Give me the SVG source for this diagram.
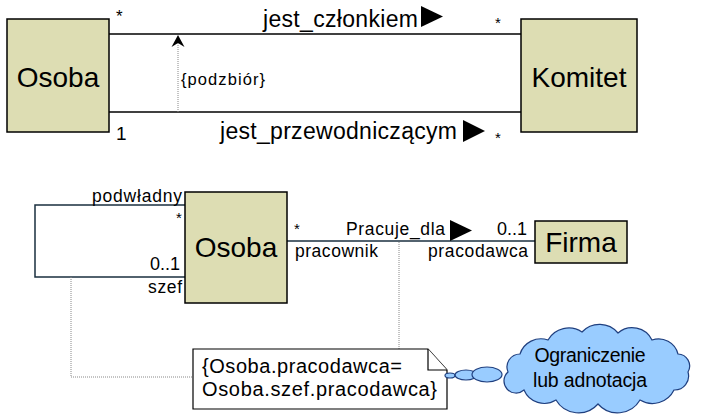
<svg xmlns="http://www.w3.org/2000/svg" width="702" height="416" viewBox="0 0 702 416">
<style>
text{font-family:"Liberation Sans",Arial,sans-serif;fill:#000}
.cls{fill:#DDDDB3;stroke:#000;stroke-width:1.5}
.big{font-size:28px;text-anchor:middle}
.lbl{font-size:23px}
.sm{font-size:17.5px}
.mult{font-size:18px}
.star{font-size:15px}
.assoc{fill:none;stroke:#000;stroke-width:1.5}
.assoc2{fill:none;stroke:#1a2f3f;stroke-width:1.5}
.dot{fill:none;stroke:#888;stroke-width:1;stroke-dasharray:1 1}
.tri{fill:#000}
.note{fill:#fff;stroke:#000;stroke-width:1.2}
.cloud{fill:#99CCFF;stroke:#1F3F7F;stroke-width:1.2}
</style>
<rect width="702" height="416" fill="#fff"/>
<g id="connectors">
  <line class="assoc" x1="107" y1="34" x2="521" y2="34"/>
  <line class="assoc" x1="107" y1="112" x2="521" y2="112"/>
  <line class="dot" x1="178" y1="112" x2="178" y2="42"/>
  <path d="M178,35 L184.5,47 L178,43 L171.5,47 Z" fill="#000"/>
  <path class="assoc2" d="M185,205 L35,205 L35,277 L185,277"/>
  <line class="assoc2" x1="287" y1="241" x2="535" y2="241"/>
  <path class="dot" d="M71,277 L71,377 L193,377"/>
  <line class="dot" x1="399" y1="242" x2="399" y2="349"/>
  <!-- top labels -->
  <text class="star" style="font-size:17px" x="116" y="22">*</text>
  <text class="lbl" x="263" y="27" textLength="155">jest_członkiem</text>
  <polygon class="tri" points="421,6 443,16.5 421,27"/>
  <text class="star" x="495" y="28">*</text>
  <text style="font-size:16.5px" x="181" y="85" textLength="84">{podzbiór}</text>
  <text style="font-size:19px" x="116" y="140">1</text>
  <text class="lbl" x="220" y="139" textLength="237">jest_przewodniczącym</text>
  <polygon class="tri" points="463,120 485,131 463,142"/>
  <text class="star" x="495" y="143">*</text>
  <!-- bottom labels -->
  <text class="sm" x="92" y="202" textLength="90">podwładny</text>
  <text class="star" x="176" y="223">*</text>
  <text class="mult" x="150" y="270" textLength="30">0..1</text>
  <text class="sm" x="148" y="293" textLength="34">szef</text>
  <text class="star" x="294" y="234">*</text>
  <text class="sm" x="295" y="257" textLength="83">pracownik</text>
  <text class="sm" x="346" y="235" textLength="99">Pracuje_dla</text>
  <polygon class="tri" points="450,220 472,230.5 450,241"/>
  <text class="mult" x="497" y="235" textLength="30">0..1</text>
  <text class="sm" x="428" y="257" textLength="100">pracodawca</text>
</g>
<g id="osoba-top">
  <rect class="cls" x="7" y="19" width="102" height="113"/>
  <text class="big" x="58" y="87">Osoba</text>
</g>
<g id="komitet">
  <rect class="cls" x="521" y="19" width="116" height="113"/>
  <text class="big" x="579" y="87">Komitet</text>
</g>
<g id="osoba-bottom">
  <rect class="cls" x="185" y="192" width="102" height="111"/>
  <text class="big" x="236" y="257">Osoba</text>
</g>
<g id="firma">
  <rect class="cls" x="535" y="221" width="92" height="42"/>
  <text class="big" x="581" y="252">Firma</text>
</g>
<g id="note">
  <path class="note" d="M193,349 L428,349 L447,370 L447,409 L193,409 Z"/>
  <path class="note" d="M428,349 L428,370 L447,370" fill="none"/>
  <text style="font-size:20px" x="202" y="373" textLength="200">{Osoba.pracodawca=</text>
  <text style="font-size:20px" x="202" y="396" textLength="235">Osoba.szef.pracodawca}</text>
</g>
<g id="cloud">
  <ellipse class="cloud" cx="450" cy="375.5" rx="5" ry="2.5"/>
  <ellipse class="cloud" cx="466" cy="375" rx="11" ry="5"/>
  <ellipse class="cloud" cx="487" cy="374.5" rx="15" ry="7.5"/>
  <path class="cloud" d="M508,372 A13,13 0 0 1 520,354 A22,22 0 0 1 548,340 A24,24 0 0 1 582,332 A24,24 0 0 1 618,333 A22,22 0 0 1 652,340 A20,20 0 0 1 678,354 A12,12 0 0 1 688,372 A14,14 0 0 1 674,390 A24,24 0 0 1 640,400 A26,26 0 0 1 598,404 A26,26 0 0 1 556,400 A22,22 0 0 1 524,390 A12,12 0 0 1 508,372 Z"/>
  <text style="font-size:19.5px;text-anchor:middle" x="590" y="362" textLength="111">Ograniczenie</text>
  <text style="font-size:19.5px;text-anchor:middle" x="590" y="387" textLength="114">lub adnotacja</text>
</g>
</svg>
